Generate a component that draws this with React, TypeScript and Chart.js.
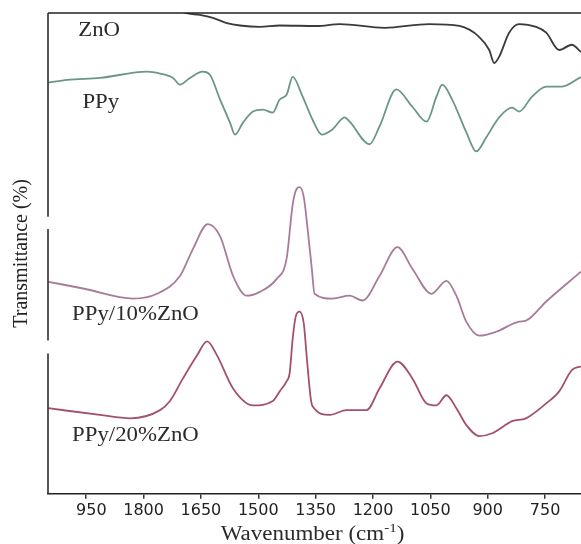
import React, { useEffect, useRef } from "react";
import { Chart, registerables } from "chart.js";

Chart.register(...registerables);

// ---- Data (wavenumber in cm-1, relative transmittance, curves offset as in the figure) ----
const znoWavenumber = [1760, 1690, 1653, 1619, 1582, 1548, 1496, 1444, 1347, 1287, 1170, 1053, 974, 922, 896, 883, 870, 844, 818, 773, 747, 713, 680, 656];
const znoTransmittance = [102.5, 100.0, 99.6, 99.0, 97.9, 97.4, 97.1, 97.4, 97.3, 97.7, 96.9, 97.7, 97.3, 95.0, 92.3, 89.6, 90.9, 95.9, 97.7, 97.1, 95.9, 92.3, 93.4, 91.9];

const ppyWavenumber = [2049, 2000, 1914, 1791, 1757, 1723, 1705, 1679, 1645, 1627, 1600, 1574, 1561, 1540, 1514, 1488, 1462, 1444, 1426, 1410, 1384, 1358, 1334, 1306, 1274, 1261, 1209, 1183, 1139, 1097, 1060, 1034, 1019, 993, 956, 930, 904, 870, 836, 818, 784, 747, 706, 656];
const ppyTransmittance = [85.5, 86.1, 86.5, 87.8, 87.4, 86.5, 85.1, 86.5, 87.8, 87.2, 82.0, 77.2, 74.7, 77.2, 79.5, 79.9, 79.3, 82.0, 83.0, 86.7, 82.6, 77.8, 74.7, 75.8, 78.3, 77.4, 72.7, 76.4, 84.1, 80.5, 77.4, 82.6, 85.1, 82.0, 75.2, 71.2, 74.1, 78.3, 80.3, 79.5, 82.6, 84.7, 84.7, 86.7];

const ppy10Wavenumber = [2049, 1958, 1827, 1765, 1705, 1671, 1632, 1600, 1566, 1530, 1496, 1452, 1426, 1410, 1400, 1392, 1381, 1371, 1360, 1353, 1306, 1261, 1227, 1183, 1136, 1097, 1047, 1008, 982, 956, 922, 878, 818, 800, 747, 656];
const ppy10Transmittance = [44.1, 42.7, 40.6, 41.6, 45.3, 50.9, 56.1, 53.6, 45.3, 41.2, 42.0, 44.7, 48.9, 60.2, 63.4, 63.8, 61.7, 55.1, 46.8, 41.6, 40.6, 41.2, 40.2, 45.3, 51.3, 46.8, 41.6, 44.3, 41.2, 35.8, 32.9, 33.7, 35.8, 36.0, 40.0, 46.2];

const ppy20Wavenumber = [2049, 1914, 1835, 1757, 1731, 1697, 1660, 1634, 1608, 1566, 1514, 1462, 1444, 1426, 1418, 1410, 1402, 1392, 1381, 1373, 1363, 1358, 1313, 1269, 1217, 1183, 1136, 1097, 1060, 1034, 1008, 982, 956, 922, 888, 836, 800, 747, 713, 680, 656];
const ppy20Transmittance = [17.8, 16.4, 15.7, 17.4, 19.3, 24.0, 28.8, 31.7, 28.8, 21.9, 18.4, 19.3, 21.3, 23.4, 25.1, 32.3, 36.9, 37.9, 35.4, 28.2, 19.9, 18.2, 16.4, 17.4, 17.4, 21.9, 27.5, 24.0, 18.8, 18.4, 20.5, 17.8, 14.3, 12.0, 12.6, 15.1, 15.7, 18.8, 21.3, 25.7, 26.5];

const seriesNames = ["ZnO", "PPy", "PPy/10%ZnO", "PPy/20%ZnO"];
const seriesColors = ["#3a3a3a", "#6a9783", "#a87c98", "#a3506f"];
// label anchor (wavenumber, transmittance at text baseline)
const labelWavenumber = [1971, 1960, 1987, 1987];
const labelTransmittance = [95.2, 80.3, 36.2, 11.0];

const tickValues = [1950, 1800, 1650, 1500, 1350, 1200, 1050, 900, 750];
const tickLabels = ["\u2007950", "1800", "1650", "1500", "1350", "1200", "1050", "900", "750"];

const xTitleMain = "Wavenumber (cm";
const xTitleSup = "-1";
const xTitleEnd = ")";
const yTitle = "Transmittance (%)";

const series = [
  [znoWavenumber, znoTransmittance],
  [ppyWavenumber, ppyTransmittance],
  [ppy10Wavenumber, ppy10Transmittance],
  [ppy20Wavenumber, ppy20Transmittance],
];

const textPlugin = {
  id: "ftirDecor",
  afterDraw(chart: any) {
    const { ctx, chartArea, scales } = chart;
    const xs = scales.x;
    const ys = scales.y;
    ctx.save();
    // top frame line
    ctx.strokeStyle = "#222";
    ctx.lineWidth = 1.5;
    ctx.beginPath();
    ctx.moveTo(chartArea.left, chartArea.top);
    ctx.lineTo(chartArea.right, chartArea.top);
    ctx.stroke();
    // left axis line (broken as in the scan)
    const h = chartArea.bottom - chartArea.top;
    const segs = [[0, 0.424], [0.449, 0.681], [0.708, 1]];
    ctx.beginPath();
    segs.forEach(([a, b]) => {
      ctx.moveTo(chartArea.left, chartArea.top + a * h);
      ctx.lineTo(chartArea.left, chartArea.top + b * h);
    });
    ctx.stroke();

    // series labels
    const sx = 1.14;
    ctx.fillStyle = "#2b2b2b";
    ctx.textBaseline = "alphabetic";
    ctx.textAlign = "left";
    ctx.font = "20px 'Liberation Serif'";
    seriesNames.forEach((name, i) => {
      const px = xs.getPixelForValue(labelWavenumber[i]);
      const py = ys.getPixelForValue(labelTransmittance[i]);
      ctx.save();
      ctx.translate(px, py);
      ctx.scale(sx, 1);
      ctx.fillText(name, 0, 0);
      ctx.restore();
    });

    // x axis title
    const tsx = 1.15;
    ctx.font = "20px 'Liberation Serif'";
    const w1 = ctx.measureText(xTitleMain).width;
    const w3 = ctx.measureText(xTitleEnd).width;
    ctx.font = "13px 'Liberation Serif'";
    const w2 = ctx.measureText(xTitleSup).width;
    const total = (w1 + w2 + w3) * tsx;
    const cx = (chartArea.left + chartArea.right) / 2 - 2;
    const baseY = chart.height - 4;
    ctx.save();
    ctx.translate(cx - total / 2, baseY);
    ctx.scale(tsx, 1);
    ctx.font = "20px 'Liberation Serif'";
    ctx.fillText(xTitleMain, 0, 0);
    ctx.font = "13px 'Liberation Serif'";
    ctx.fillText(xTitleSup, w1, -8);
    ctx.font = "20px 'Liberation Serif'";
    ctx.fillText(xTitleEnd, w1 + w2, 0);
    ctx.restore();
    ctx.restore();
  },
};

export default function App() {
  const canvasRef = useRef<HTMLCanvasElement | null>(null);

  useEffect(() => {
    if (!canvasRef.current) return;
    const chart = new Chart(canvasRef.current, {
      type: "line",
      data: {
        datasets: series.map(([wn, tr], i) => ({
          label: seriesNames[i],
          data: wn.map((w, j) => ({ x: w, y: tr[j] })),
          borderColor: seriesColors[i],
          backgroundColor: seriesColors[i],
          borderWidth: 1.8,
          pointRadius: 0,
          fill: false,
          cubicInterpolationMode: "monotone" as const,
        })),
      },
      options: {
        animation: false,
        responsive: true,
        maintainAspectRatio: false,
        layout: { padding: { top: 13, right: 0, bottom: 22, left: 0 } },
        plugins: {
          legend: { display: false },
          tooltip: { enabled: false },
        },
        scales: {
          x: {
            type: "linear",
            reverse: true,
            min: 656,
            max: 2050,
            afterBuildTicks: (scale: any) => {
              scale.ticks = tickValues.map((v) => ({ value: v }));
            },
            ticks: {
              autoSkip: false,
              maxRotation: 0,
              padding: 2,
              color: "#222",
              font: { family: "'DejaVu Sans'", size: 16 },
              callback: (value: any) => {
                const k = tickValues.indexOf(Number(value));
                return k >= 0 ? tickLabels[k] : "";
              },
            },
            grid: {
              display: true,
              drawOnChartArea: false,
              drawTicks: true,
              tickLength: 5,
              color: "#333",
              lineWidth: 1.5,
            },
            border: { display: true, color: "#222", width: 1.5 },
          },
          y: {
            min: 0,
            max: 100,
            ticks: { display: false },
            grid: { display: false, drawTicks: false },
            border: { display: false },
            title: {
              display: true,
              text: yTitle,
              color: "#222",
              font: { family: "'Liberation Serif'", size: 20 },
              padding: { top: 10, bottom: 14 },
            },
          },
        },
      },
      plugins: [textPlugin],
    });
    return () => chart.destroy();
  }, []);

  return (
    <div style={{ position: "absolute", left: 0, top: 0, width: 581, height: 544, background: "#fff" }}>
      <canvas ref={canvasRef} />
    </div>
  );
}
